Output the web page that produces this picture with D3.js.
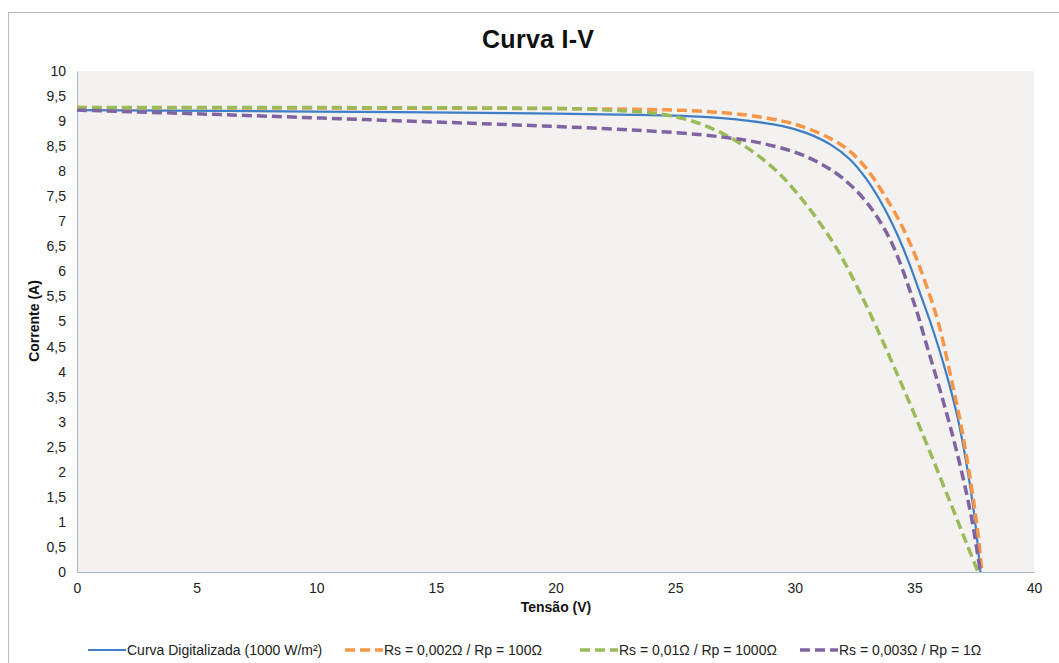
<!DOCTYPE html>
<html>
<head>
<meta charset="utf-8">
<script src="https://cdn.jsdelivr.net/npm/d3@7"></script>
<style>
  body { margin: 0; background: #fff; font-family: "Liberation Sans", Arial, sans-serif; }
  .tick text { font-size: 14px; fill: #222; }
</style>
</head>
<body>
<script>
// series (tensao V, corrente A)
var curvaDigV = [0, 10, 20, 24, 26, 28, 29.5, 30.5, 31.5, 32.3, 33, 33.7, 34.3, 34.8, 35.3, 35.8, 36.3, 36.8, 37.2, 37.5, 37.76];
var curvaDigI = [9.22, 9.19, 9.15, 9.12, 9.09, 9.01, 8.9, 8.76, 8.53, 8.24, 7.84, 7.3, 6.72, 6.14, 5.48, 4.8, 4.02, 3.1, 2.1, 1.15, 0];

var rs002V = [0, 10, 20, 24, 26, 28, 29.5, 30.5, 31.5, 32.3, 33, 33.7, 34.4, 35, 35.5, 36, 36.5, 37, 37.4, 37.65, 37.82];
var rs002I = [9.27, 9.26, 9.25, 9.23, 9.2, 9.12, 9.0, 8.86, 8.65, 8.4, 8.05, 7.56, 6.98, 6.36, 5.72, 4.98, 3.95, 2.8, 1.65, 0.8, 0];

var rs01V = [0, 10, 18, 21, 23, 24.4, 25.5, 26.5, 27.5, 28.5, 29.4, 30.2, 31, 31.8, 32.6, 33.4, 34.2, 35, 35.8, 36.6, 37.2, 37.66];
var rs01I = [9.27, 9.27, 9.26, 9.245, 9.2, 9.14, 9.03, 8.86, 8.62, 8.3, 7.93, 7.5, 7.0, 6.42, 5.7, 4.9, 4.04, 3.15, 2.22, 1.27, 0.55, 0];

var rs003V = [0, 6, 12, 18, 22, 25, 27, 28.5, 30, 31, 32, 33, 34, 35, 35.5, 36, 36.5, 37, 37.4, 37.76];
var rs003I = [9.22, 9.13, 9.03, 8.93, 8.85, 8.77, 8.68, 8.57, 8.38, 8.17, 7.86, 7.38, 6.62, 5.35, 4.55, 3.75, 2.9, 1.95, 1.05, 0];

var seriesNames = ["Curva Digitalizada (1000 W/m²)", "Rs = 0,002Ω / Rp = 100Ω", "Rs = 0,01Ω / Rp = 1000Ω", "Rs = 0,003Ω / Rp = 1Ω"];
var seriesColors = ["#3d7ec6", "#f79646", "#9bbb59", "#8064a2"];
var xTicks = [0, 5, 10, 15, 20, 25, 30, 35, 40];
var yTicks = [0, 0.5, 1, 1.5, 2, 2.5, 3, 3.5, 4, 4.5, 5, 5.5, 6, 6.5, 7, 7.5, 8, 8.5, 9, 9.5, 10];

var W = 1059, H = 663;
var svg = d3.select("body").append("svg").attr("width", W).attr("height", H);

// outer chart border
svg.append("rect").attr("x", 8.5).attr("y", 12.5).attr("width", W + 20).attr("height", H + 20)
   .attr("fill", "#fff").attr("stroke", "#b4bcc6").attr("stroke-width", 1);

var x = d3.scaleLinear().domain([0, 40]).range([77, 1034]);
var y = d3.scaleLinear().domain([0, 10]).range([572, 71]);

svg.append("rect").attr("x", x(0)).attr("y", y(10))
   .attr("width", x(40) - x(0)).attr("height", y(0) - y(10)).attr("fill", "#f3f2f1");

var fmt = function(v){ return String(v).replace(".", ","); };

var gx = svg.append("g").attr("transform", "translate(0," + y(0) + ")")
  .call(d3.axisBottom(x).tickValues(xTicks).tickFormat(fmt).tickSize(0).tickPadding(11));
gx.select(".domain").attr("stroke", "#a9b8c8");

var gy = svg.append("g").attr("transform", "translate(" + x(0) + ",0)")
  .call(d3.axisLeft(y).tickValues(yTicks).tickFormat(fmt).tickSize(0).tickPadding(11));
gy.select(".domain").attr("stroke", "#a9b8c8");
svg.selectAll(".tick text").attr("font-family", "Liberation Sans, Arial, sans-serif");

// curves
var data = [
  d3.zip(curvaDigV, curvaDigI),
  d3.zip(rs002V, rs002I),
  d3.zip(rs01V, rs01I),
  d3.zip(rs003V, rs003I)
];
var line = d3.line().x(function(d){ return x(d[0]); }).y(function(d){ return y(d[1]); })
  .curve(d3.curveCatmullRom.alpha(0.5));

data.forEach(function(s, i){
  svg.append("path").datum(s).attr("d", line)
     .attr("fill", "none").attr("stroke", seriesColors[i])
     .attr("stroke-width", i === 0 ? 2.2 : 3.5)
     .attr("stroke-dasharray", i === 0 ? null : "10,5");
});

// titles
svg.append("text").attr("x", 538).attr("y", 48).attr("text-anchor", "middle")
   .attr("font-size", 25).attr("font-weight", "bold").attr("fill", "#111")
   .attr("textLength", 112).text("Curva I-V");
svg.append("text").attr("x", 556).attr("y", 612).attr("text-anchor", "middle")
   .attr("font-size", 14).attr("font-weight", "bold").attr("fill", "#111").text("Tensão (V)");
svg.append("text").attr("transform", "translate(39,321) rotate(-90)").attr("text-anchor", "middle")
   .attr("font-size", 14).attr("font-weight", "bold").attr("fill", "#111").text("Corrente (A)");

// legend
var legX = [88, 345, 580, 800];
var leg = svg.append("g").selectAll("g").data(seriesNames).enter().append("g")
  .attr("transform", function(d, i){ return "translate(" + legX[i] + ",650)"; });
leg.append("line").attr("x1", 0).attr("x2", 38).attr("y1", 0).attr("y2", 0)
   .attr("stroke", function(d, i){ return seriesColors[i]; })
   .attr("stroke-width", function(d, i){ return i === 0 ? 2.2 : 3.5; })
   .attr("stroke-dasharray", function(d, i){ return i === 0 ? null : "10,5"; });
leg.append("text").attr("x", 39).attr("y", 5).attr("font-size", 14).attr("fill", "#222")
   .text(function(d){ return d; });
</script>
</body>
</html>
